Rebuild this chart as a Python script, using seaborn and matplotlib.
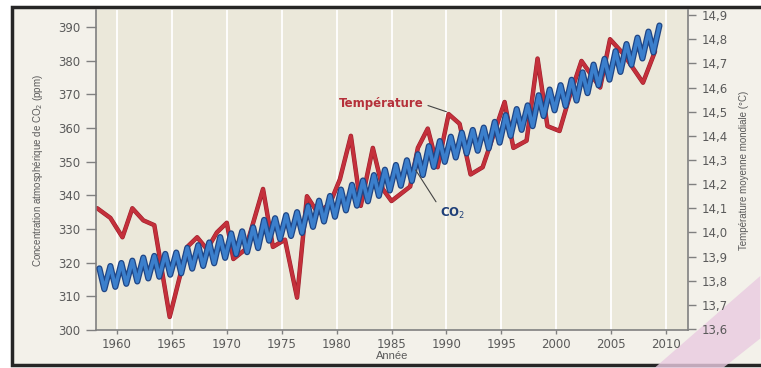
import matplotlib
matplotlib.use("Agg")
import matplotlib.pyplot as plt
import matplotlib.patheffects as pe
from matplotlib.patches import Rectangle, Polygon
import seaborn as sns
import pandas as pd

# CO2 (ppm) : maximum de mai et minimum d'octobre
co2_years = list(range(1958, 2010))
co2_may = [318.3, 319.0, 319.9, 320.6, 321.5, 322.0, 322.6, 323.0, 324.4, 325.2,
           326.0, 327.6, 328.7, 329.3, 330.5, 332.7, 333.2, 334.1, 335.0, 336.8,
           338.4, 339.8, 341.7, 343.1, 344.4, 346.0, 347.6, 349.0, 350.4, 352.2,
           354.6, 356.1, 357.4, 358.6, 359.4, 360.1, 361.8, 363.8, 365.6, 366.7,
           369.7, 371.4, 372.7, 374.3, 376.5, 378.8, 380.5, 382.8, 384.9, 386.8,
           388.6, 390.4]
co2_oct = [312.1, 312.8, 313.7, 314.4, 315.3, 315.8, 316.4, 316.8, 318.2, 319.0,
           319.8, 321.4, 322.5, 323.1, 324.3, 326.5, 327.0, 327.9, 328.8, 330.6,
           332.2, 333.6, 335.5, 336.9, 338.2, 339.8, 341.4, 342.8, 344.2, 346.0,
           348.4, 349.9, 351.2, 352.4, 353.2, 353.9, 355.6, 357.6, 359.4, 360.5,
           363.5, 365.2, 366.5, 368.1, 370.3, 372.6, 374.3, 376.6, 378.7, 380.6,
           382.4]

# Température moyenne mondiale (°C)
temp_years = [1958.2, 1959.4, 1960.5, 1961.4, 1962.4, 1963.4, 1964.8, 1966.4, 1967.3, 1968.2,
              1969.1, 1970.0, 1970.6, 1971.7, 1973.3, 1974.2, 1975.3, 1976.4, 1977.3, 1978.3,
              1979.4, 1980.3, 1981.3, 1982.2, 1983.3, 1984.2, 1985.0, 1986.7, 1987.4, 1988.3,
              1989.2, 1990.2, 1991.2, 1992.2, 1993.3, 1995.3, 1996.1, 1997.3, 1998.3, 1999.2,
              2000.3, 2001.2, 2002.3, 2004.0, 2004.9, 2006.1, 2007.9, 2009.0]
temp_values = [14.10, 14.06, 13.98, 14.10, 14.05, 14.03, 13.65, 13.94, 13.98, 13.93,
               14.00, 14.04, 13.89, 13.93, 14.18, 13.94, 13.97, 13.73, 14.15, 14.08,
               14.12, 14.22, 14.40, 14.11, 14.35, 14.18, 14.13, 14.19, 14.35, 14.43,
               14.27, 14.49, 14.45, 14.24, 14.27, 14.54, 14.35, 14.38, 14.72, 14.44,
               14.42, 14.56, 14.71, 14.60, 14.80, 14.74, 14.62, 14.75]

x_ticks = [1960, 1965, 1970, 1975, 1980, 1985, 1990, 1995, 2000, 2005, 2010]
co2_ticks = [300, 310, 320, 330, 340, 350, 360, 370, 380, 390]
temp_ticks = [13.6, 13.7, 13.8, 13.9, 14.0, 14.1, 14.2, 14.3, 14.4, 14.5, 14.6, 14.7, 14.8, 14.9]
temp_tick_labels = ["13,6", "13,7", "13,8", "13,9", "14,0", "14,1", "14,2",
                    "14,3", "14,4", "14,5", "14,6", "14,7", "14,8", "14,9"]

# zigzag saisonnier
may = pd.DataFrame({"annee": [y + 0.4 for y in co2_years], "co2": co2_may})
octo = pd.DataFrame({"annee": [y + 0.85 for y in co2_years[:-1]], "co2": co2_oct})
co2 = pd.concat([may, octo]).sort_values("annee")
temp = pd.DataFrame({"annee": temp_years, "temp": temp_values})

sns.set_theme(style="white")
plt.rcParams["font.family"] = ["DejaVu Sans"]

grey = "#5a5a5a"
spine = "#808080"
label_font = ["Liberation Sans", "DejaVu Sans"]

fig = plt.figure(figsize=(7.61, 3.68), dpi=100, facecolor="white")
fig.add_artist(Rectangle((0.0158, 0.008), 0.99, 0.973, transform=fig.transFigure,
                         facecolor="#f3f1ea", edgecolor="#262626", lw=2.5, zorder=-10))
fig.add_artist(Polygon([(0.86, 0.0), (0.999, 0.25), (0.999, 0.08), (0.95, 0.0)],
                       closed=True, transform=fig.transFigure,
                       facecolor="#e9cbe0", edgecolor="none", alpha=0.8, zorder=-9))

ax = fig.add_axes([96 / 761, 38 / 368, 592 / 761, 320 / 368])
ax.set_facecolor("#ebe8da")

# température sur l'axe principal (graduations à droite)
sns.lineplot(data=temp, x="annee", y="temp", ax=ax, color="#c4303b", lw=2.4,
             estimator=None, sort=False)
ax.lines[-1].set_path_effects([pe.Stroke(linewidth=3.2, foreground="#9c1f2c"), pe.Normal()])

ax2 = ax.twinx()
sns.lineplot(data=co2, x="annee", y="co2", ax=ax2, color="#3b7fcc", lw=2.6,
             estimator=None, sort=False)
ax2.lines[-1].set_path_effects([pe.Stroke(linewidth=4.4, foreground="#1f4585"), pe.Normal()])

ax.yaxis.tick_right()
ax.yaxis.set_label_position("right")
ax2.yaxis.tick_left()
ax2.yaxis.set_label_position("left")

ax.set_xlim(1958.09, 2012.0)
ax.set_ylim(13.596, 14.921)
ax2.set_ylim(300, 395.0)

ax.set_xticks(x_ticks)
ax.set_xticklabels([str(t) for t in x_ticks])
ax.set_yticks(temp_ticks)
ax.set_yticklabels(temp_tick_labels)
ax2.set_yticks(co2_ticks)
ax2.set_yticklabels([str(t) for t in co2_ticks])

ax.grid(axis="x", color="white", lw=1.3)
ax.grid(axis="y", visible=False)

for a in (ax, ax2):
    for s in a.spines.values():
        s.set_visible(False)
for s in ("left", "right", "bottom"):
    ax.spines[s].set_visible(True)
    ax.spines[s].set_color(spine)
    ax.spines[s].set_linewidth(1.2)

ax.tick_params(axis="x", bottom=True, direction="out", length=3, width=1, color=spine,
               labelsize=8.5, labelcolor=grey, pad=3)
ax.tick_params(axis="y", right=True, left=False, direction="out", length=6, width=1,
               color=spine, labelsize=8.5, labelcolor=grey, pad=4)
ax2.tick_params(axis="y", left=True, right=False, direction="out", length=7, width=1,
                color=spine, labelsize=8.5, labelcolor=grey, pad=4)

ax.set_xlabel("Année", fontsize=8, color=grey, labelpad=0, family=label_font)
ax.set_ylabel("Température moyenne mondiale (°C)", fontsize=7, color=grey,
              family=label_font, labelpad=8)
ax2.set_ylabel("Concentration atmosphérique de CO$_2$ (ppm)", fontsize=7, color=grey,
               family=label_font, labelpad=10)

ax2.annotate("Température", xy=(1990.0, 364.8), xytext=(1987.9, 367.1),
             ha="right", va="center", fontsize=8.5, fontweight="bold", color="#b5303a",
             arrowprops=dict(arrowstyle="-", color="#444444", lw=0.8,
                             relpos=(1.0, 0.5), shrinkA=1, shrinkB=0))
ax2.annotate("CO$_2$", xy=(1987.2, 347.5), xytext=(1989.4, 334.5),
             ha="left", va="center", fontsize=8.5, fontweight="bold", color="#1f3f78",
             arrowprops=dict(arrowstyle="-", color="#444444", lw=0.8,
                             relpos=(0.0, 0.9), shrinkA=1, shrinkB=0))

fig.savefig("out.png", dpi=100, facecolor=fig.get_facecolor())
